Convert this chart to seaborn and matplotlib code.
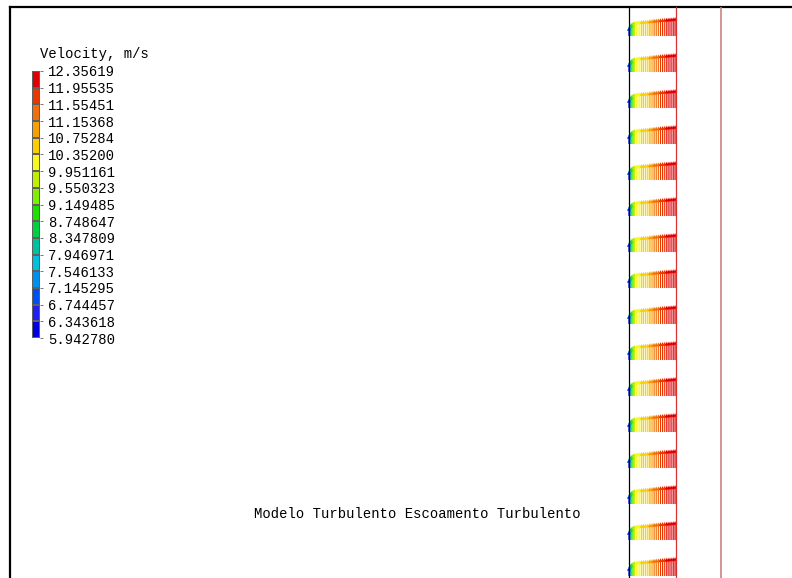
import numpy as np
import matplotlib
matplotlib.use("Agg")
import matplotlib.pyplot as plt
from matplotlib.colors import ListedColormap, Normalize
import seaborn as sns

# ---------------- data ----------------
legend_title = "Velocity, m/s"
caption = "Modelo Turbulento Escoamento Turbulento"

# contour levels (top to bottom as in the legend)
level_labels = ["12.35619", "11.95535", "11.55451", "11.15368", "10.75284",
                "10.35200", "9.951161", "9.550323", "9.149485", "8.748647",
                "8.347809", "7.946971", "7.546133", "7.145295", "6.744457",
                "6.343618", "5.942780"]
level_values = [12.35619, 11.95535, 11.55451, 11.15368, 10.75284,
                10.35200, 9.951161, 9.550323, 9.149485, 8.748647,
                8.347809, 7.946971, 7.546133, 7.145295, 6.744457,
                6.343618, 5.942780]

# legend block colours, low -> high
band_colors = ["#0000e0", "#2020f0", "#0050f0", "#0090f0", "#00c0e0",
               "#00c0a0", "#00d040", "#20e000", "#80f000", "#c0f000",
               "#f8f820", "#f8d000", "#f8a000", "#f07010", "#e83800",
               "#e00000"]

# radial positions (wall = 0, axis = 1) and axial velocity profile
radial_pos = [0.0, 0.02, 0.04, 0.065, 0.09, 0.12, 0.155, 0.19, 0.23, 0.27,
              0.31, 0.355, 0.40, 0.445, 0.49, 0.535, 0.58, 0.625, 0.67,
              0.715, 0.76, 0.805, 0.85, 0.895, 0.94, 0.98]
velocity = [6.0, 7.2, 8.0, 8.8, 9.3, 9.7, 10.0, 10.2, 10.35, 10.45,
            10.55, 10.65, 10.75, 10.9, 11.05, 11.2, 11.35, 11.5, 11.62,
            11.74, 11.86, 11.96, 12.06, 12.16, 12.26, 12.33]

# axial stations where vectors are drawn
stations = list(range(16))

# geometry lines (radial coordinate)
wall_r = 0.0
axis_r = 1.0
outer_r = 1.957

# ---------------- style ----------------
sns.set_theme(style="white")
plt.rcParams["font.family"] = ["Liberation Mono", "DejaVu Sans Mono"]

W, H = 792, 578
fig = plt.figure(figsize=(W / 100, H / 100), dpi=100)
fig.patch.set_facecolor("white")

cmap = ListedColormap(sns.color_palette(band_colors))
vmin, vmax = min(level_values), max(level_values)
norm = Normalize(vmin=vmin, vmax=vmax)

# main frame axes (pixel layout: frame left at 10, top at 7)
ax = fig.add_axes([10 / W, 0, (W - 10) / W, (H - 7) / H])
px_per_r = 47.0
px_per_z = 36.0
x_wall_px = 629.0
y_z0_px = 576.0
ax.set_xlim((10 - x_wall_px) / px_per_r, (W - x_wall_px) / px_per_r)
ax.set_ylim((y_z0_px - H) / px_per_z, (y_z0_px - 7) / px_per_z)
ax.set_xticks([])
ax.set_yticks([])
for s in ["right", "bottom"]:
    ax.spines[s].set_visible(False)
for s in ["left", "top"]:
    ax.spines[s].set_visible(True)
    ax.spines[s].set_color("black")
    ax.spines[s].set_linewidth(1.6)

ax.axvline(wall_r, color="black", lw=0.9, zorder=3)
ax.axvline(axis_r, color="#d83030", lw=0.9, zorder=3)
ax.axvline(outer_r, color="#c87878", lw=1.1, zorder=3)

R, Z = np.meshgrid(np.array(radial_pos), np.array(stations, dtype=float))
V = np.tile(np.array(velocity), (len(stations), 1))
U = np.zeros_like(V)
ax.quiver(R, Z, U, V, V, cmap=cmap, norm=norm, angles="xy",
          scale_units="y", scale=23.5, units="dots", width=1.2,
          headwidth=3.5, headlength=3.5, headaxislength=3.0, zorder=2)

# legend bar via seaborn heatmap
leg = fig.add_axes([32 / W, (H - 338) / H, 8 / W, (338 - 71) / H])
block_mid = np.array([(level_values[i] + level_values[i + 1]) / 2
                      for i in range(len(level_values) - 1)]).reshape(-1, 1)
sns.heatmap(block_mid, ax=leg, cmap=cmap, vmin=vmin, vmax=vmax, cbar=False,
            linewidths=0.25, linecolor="#606060", xticklabels=False)
leg.yaxis.tick_right()
leg.set_yticks(np.arange(len(level_values)))
leg.set_yticklabels(level_labels, rotation=0, fontsize=10, color="black")
leg.tick_params(axis="y", length=2, width=0.5, color="#404040", pad=4,
                right=True, left=False)
for lbl in leg.get_yticklabels():
    lbl.set_horizontalalignment("left")
leg.set_xticks([])

fig.text(40 / W, 1 - 54 / H, legend_title, fontsize=10, color="black",
         ha="left", va="center")
fig.text(417 / W, 1 - 514 / H, caption, fontsize=10, color="black",
         ha="center", va="center")

fig.savefig("out.png", dpi=100, facecolor="white")
